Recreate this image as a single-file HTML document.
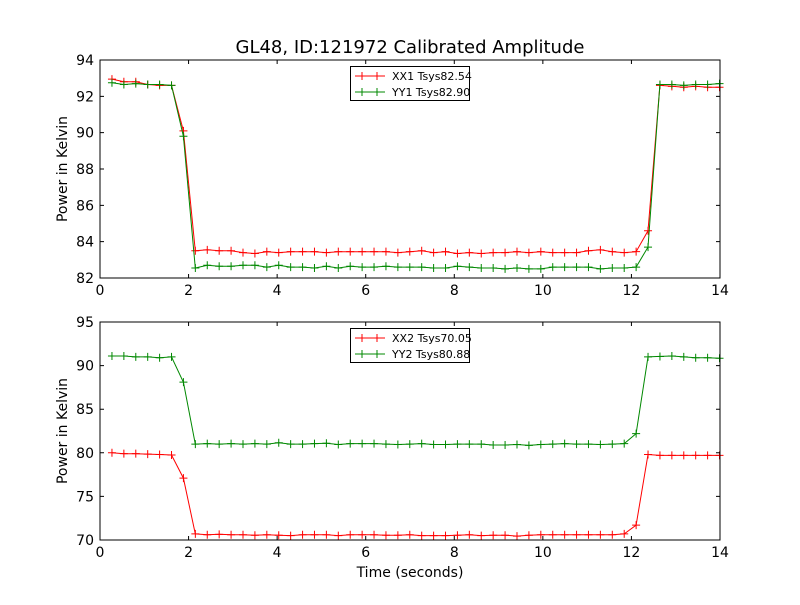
<!DOCTYPE html>
<html><head><meta charset="utf-8"><style>
body{margin:0;background:#fff}
text{font-family:"DejaVu Sans","Liberation Sans",sans-serif}
</style></head><body>
<svg id="c" width="800" height="600" xmlns="http://www.w3.org/2000/svg"></svg>
<script>
const t0=0.27, dt=0.269;
const xx1=[92.95,92.8,92.8,92.65,92.6,92.6,90.1,83.5,83.55,83.5,83.5,83.4,83.35,83.45,83.4,83.45,83.45,83.45,83.4,83.45,83.45,83.45,83.45,83.45,83.4,83.45,83.5,83.4,83.45,83.35,83.4,83.35,83.4,83.4,83.45,83.4,83.45,83.4,83.4,83.4,83.5,83.55,83.45,83.4,83.45,84.6,92.6,92.55,92.5,92.55,92.5,92.5];
const yy1=[92.75,92.65,92.7,92.65,92.65,92.6,89.8,82.55,82.7,82.65,82.65,82.7,82.7,82.6,82.7,82.6,82.6,82.55,82.65,82.55,82.65,82.6,82.6,82.65,82.6,82.6,82.6,82.55,82.55,82.65,82.6,82.55,82.55,82.5,82.55,82.5,82.5,82.6,82.6,82.6,82.6,82.5,82.55,82.55,82.6,83.7,92.65,92.65,92.6,92.65,92.65,92.7];
const xx2=[80,79.9,79.9,79.85,79.8,79.75,77.1,70.7,70.6,70.65,70.6,70.6,70.55,70.6,70.55,70.5,70.6,70.6,70.6,70.5,70.6,70.6,70.6,70.55,70.55,70.6,70.5,70.5,70.5,70.55,70.6,70.5,70.55,70.55,70.45,70.55,70.6,70.6,70.6,70.6,70.6,70.6,70.6,70.7,71.7,79.8,79.7,79.7,79.7,79.7,79.7,79.7];
const yy2=[91.1,91.1,91,91,90.9,91,88.1,81,81.05,81,81.05,81,81.05,81,81.15,81,81,81.05,81.1,80.95,81.05,81.05,81.05,81,80.95,81,81.05,80.95,80.95,81,81,81,80.9,80.9,80.95,80.85,80.95,81,81.05,81,81,80.95,81,81.05,82.2,91,91.05,91.1,91,90.9,90.9,90.85];
const xTicks=[0,2,4,6,8,10,12,14];
const y1Ticks=[82,84,86,88,90,92,94];
const y2Ticks=[70,75,80,85,90,95];
const svg=document.getElementById('c');const NS='http://www.w3.org/2000/svg';
function el(tag,a,txt){const e=document.createElementNS(NS,tag);for(const k in a)e.setAttribute(k,a[k]);if(txt!==undefined)e.textContent=txt;svg.appendChild(e);return e;}
const L=100,R=720;const sx=v=>L+(v-0)/14*(R-L);
function panel(top,bot,ymin,ymax,ticks,series,names,colors,pname){
 const sy=v=>bot-(v-ymin)/(ymax-ymin)*(bot-top);
 series.forEach((s,si)=>{
  const pts=s.map((v,i)=>sx(t0+i*dt).toFixed(1)+','+sy(v).toFixed(1)).join(' ');
  const pl=el('polyline',{points:pts,fill:'none',stroke:colors[si],'stroke-width':1});
  
  
  s.forEach((v,i)=>{const x=sx(t0+i*dt),y=sy(v);
   const m=el('path',{d:`M${x-4},${y}H${x+4}M${x},${y-4}V${y+4}`,stroke:colors[si],'stroke-width':1});
   });
 });
 const f=el('rect',{x:L,y:top,width:R-L,height:bot-top,fill:'none',stroke:'#000','stroke-width':1});
 
 xTicks.forEach(v=>{const x=sx(v);el('path',{d:`M${x},${bot}v-4M${x},${top}v4`,stroke:'#000'});
  const t=el('text',{x:x,y:bot+17,'text-anchor':'middle','font-size':14},v);
  });
 ticks.forEach(v=>{const y=sy(v);el('path',{d:`M${L},${y}h4M${R},${y}h-4`,stroke:'#000'});
  const t=el('text',{x:L-6,y:y+5,'text-anchor':'end','font-size':14},v);
  });
 const yt=el('text',{x:0,y:0,transform:`translate(67,${(top+bot)/2}) rotate(-90)`,'text-anchor':'middle','font-size':14},'Power in Kelvin');
 
 const ly=top+6;
 const lg=el('rect',{x:350.5,y:ly+0.5,width:119,height:34,fill:'#fff',stroke:'#000'});
 
 names.forEach((n,i)=>{const y=ly+10+i*16;
  el('path',{d:`M355,${y}h30M362,${y-4}v8M377,${y-4}v8`,stroke:colors[i]});
  const t=el('text',{x:392,y:y+4,'font-size':11},n);
  });
}
panel(60,278,82,94,y1Ticks,[xx1,yy1],['XX1 Tsys82.54','YY1 Tsys82.90'],['#f00','#080'],'top');
panel(322,540,70,95,y2Ticks,[xx2,yy2],['XX2 Tsys70.05','YY2 Tsys80.88'],['#f00','#080'],'bottom');
const ti=el('text',{x:410,y:53,'text-anchor':'middle','font-size':18},'GL48, ID:121972 Calibrated Amplitude');

const xt=el('text',{x:410,y:577,'text-anchor':'middle','font-size':14},'Time (seconds)');

</script>
</body></html>
